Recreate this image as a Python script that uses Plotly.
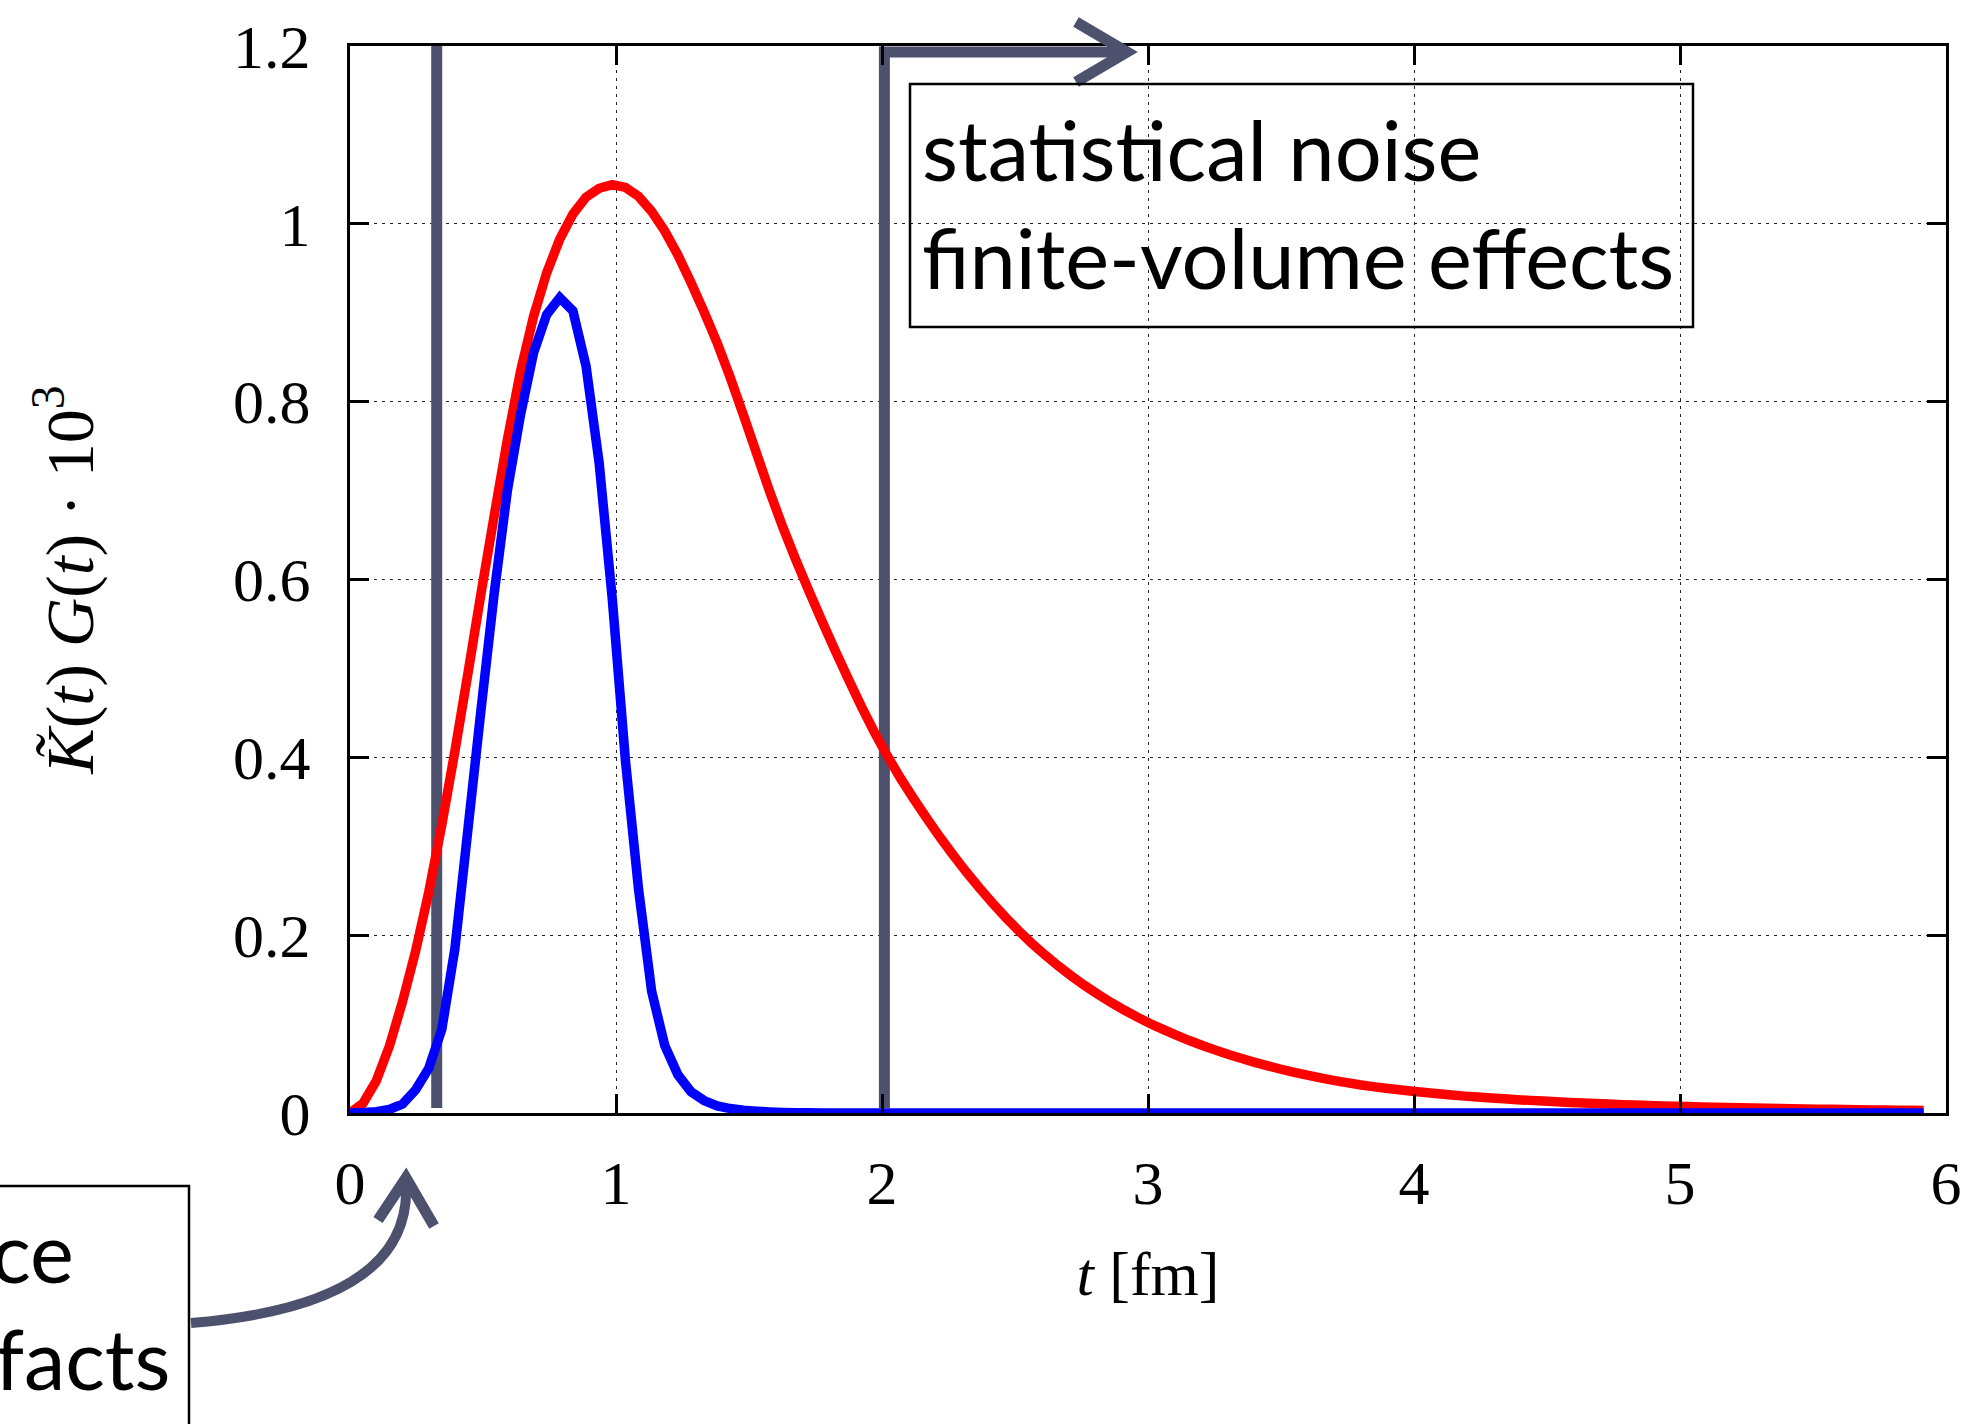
import plotly.graph_objects as go

# ---------------- data ----------------
t_fm = [0.0, 0.0493, 0.0986, 0.1479, 0.1972, 0.2465, 0.2958, 0.3451, 0.3944, 0.4437,
        0.493, 0.5423, 0.5916, 0.6409, 0.6902, 0.7395, 0.7888, 0.8381, 0.8874, 0.9367,
        0.986, 1.0353, 1.0846, 1.1339, 1.1832, 1.2325, 1.2818, 1.3311, 1.3804, 1.4297,
        1.479, 1.5283, 1.5776, 1.6269, 1.6762, 1.7255, 1.7748, 1.8241, 1.8734, 1.9227,
        1.972, 2.0213, 2.0706, 2.1199, 2.1692, 2.2185, 2.2678, 2.3171, 2.3664, 2.4157,
        2.465, 2.5143, 2.5636, 2.6129, 2.6622, 2.7115, 2.7608, 2.8101, 2.8594, 2.9087,
        2.958, 3.0073, 3.0566, 3.1059, 3.1552, 3.2045, 3.2538, 3.3031, 3.3524, 3.4017,
        3.451, 3.5003, 3.5496, 3.5989, 3.6482, 3.6975, 3.7468, 3.7961, 3.8454, 3.8947,
        3.944, 3.9933, 4.0426, 4.0919, 4.1412, 4.1905, 4.2398, 4.2891, 4.3384, 4.3877,
        4.437, 4.4863, 4.5356, 4.5849, 4.6342, 4.6835, 4.7328, 4.7821, 4.8314, 4.8807,
        4.93, 4.9793, 5.0286, 5.0779, 5.1272, 5.1765, 5.2258, 5.2751, 5.3244, 5.3737,
        5.423, 5.4723, 5.5216, 5.5709, 5.6202, 5.6695, 5.7188, 5.7681, 5.8174, 5.8667,
        5.916]

red_vals = [0.000, 0.011, 0.036, 0.075, 0.125, 0.182, 0.248, 0.324, 0.407, 0.495,
            0.585, 0.672, 0.757, 0.834, 0.896, 0.945, 0.983, 1.011, 1.030, 1.040,
            1.044, 1.041, 1.031, 1.014, 0.992, 0.965, 0.934, 0.901, 0.866, 0.827,
            0.785, 0.742, 0.699, 0.659, 0.622, 0.587, 0.553, 0.520, 0.488, 0.457,
            0.428, 0.401, 0.376, 0.353, 0.331, 0.310, 0.290, 0.271, 0.253, 0.236,
            0.2198, 0.2048, 0.1907, 0.1777, 0.1655, 0.1542, 0.1436, 0.1338, 0.1246, 0.1161,
            0.1081, 0.1007, 0.0940, 0.0875, 0.0815, 0.0759, 0.0707, 0.0658, 0.0613, 0.0570,
            0.0530, 0.0492, 0.0457, 0.0425, 0.0395, 0.0367, 0.0341, 0.0317, 0.0297, 0.0279,
            0.0261, 0.0245, 0.0230, 0.0216, 0.0202, 0.0190, 0.0179, 0.0169, 0.0159, 0.0150,
            0.0142, 0.0134, 0.0126, 0.0119, 0.0112, 0.0106, 0.0100, 0.0094, 0.0089, 0.0084,
            0.0080, 0.0076, 0.0072, 0.0068, 0.0065, 0.0062, 0.0059, 0.0056, 0.0053, 0.0050,
            0.0048, 0.0045, 0.0043, 0.0041, 0.0039, 0.0037, 0.0035, 0.0033, 0.0032, 0.0030,
            0.0029]

blue_vals = [0.0, 0.0005, 0.0015, 0.004, 0.010, 0.026, 0.050, 0.094, 0.185, 0.320,
             0.455, 0.585, 0.700, 0.785, 0.855, 0.898, 0.917, 0.902, 0.840, 0.731,
             0.578, 0.397, 0.252, 0.137, 0.076, 0.043, 0.024, 0.014, 0.008, 0.005,
             0.003, 0.002, 0.0012, 0.0007, 0.0004, 0.0002, 0.0, 0.0, 0.0, 0.0,
             0.0, 0.0, 0.0, 0.0, 0.0, 0.0, 0.0, 0.0, 0.0, 0.0,
             0.0, 0.0, 0.0, 0.0, 0.0, 0.0, 0.0, 0.0, 0.0, 0.0,
             0.0, 0.0, 0.0, 0.0, 0.0, 0.0, 0.0, 0.0, 0.0, 0.0,
             0.0, 0.0, 0.0, 0.0, 0.0, 0.0, 0.0, 0.0, 0.0, 0.0,
             0.0, 0.0, 0.0, 0.0, 0.0, 0.0, 0.0, 0.0, 0.0, 0.0,
             0.0, 0.0, 0.0, 0.0, 0.0, 0.0, 0.0, 0.0, 0.0, 0.0,
             0.0, 0.0, 0.0, 0.0, 0.0, 0.0, 0.0, 0.0, 0.0, 0.0,
             0.0, 0.0, 0.0, 0.0, 0.0, 0.0, 0.0, 0.0, 0.0, 0.0,
             0.0]

x_tickvals = [0, 1, 2, 3, 4, 5, 6]
x_ticktext = ["0", "1", "2", "3", "4", "5", "6"]
y_tickvals = [0, 0.2, 0.4, 0.6, 0.8, 1.0, 1.2]
y_ticktext = ["0", "0.2", "0.4", "0.6", "0.8", "1", "1.2"]

# window-region boundaries (fm) marked by the sketched lines
t_window_lo = 0.326
t_window_hi = 2.009

# ---------------- layout geometry ----------------
W, H = 1972, 1424
ML, MR, MT, MB = 350, 26, 46, 311
PW, PH = W - ML - MR, H - MT - MB

def pxx(x):
    return (x - ML) / PW

def pxy(y):
    return (H - MB - y) / PH

GRAY = "#4d516e"
SERIF = "Liberation Serif, Times New Roman, serif"
SANS = "Lato, Carlito, Open Sans, sans-serif"

fig = go.Figure()
fig.add_trace(go.Scatter(x=t_fm, y=red_vals, mode="lines",
                         line=dict(color="#ff0000", width=9.5, simplify=False),
                         cliponaxis=False, showlegend=False))
fig.add_trace(go.Scatter(x=t_fm, y=blue_vals, mode="lines",
                         line=dict(color="#0000ff", width=9.5, simplify=False),
                         cliponaxis=False, showlegend=False))

axis_common = dict(showline=True, linewidth=3, linecolor="black", mirror="allticks",
                   ticks="inside", ticklen=19, tickwidth=3, tickcolor="black",
                   showgrid=True, gridcolor="#222222", gridwidth=1, griddash="3px,5px",
                   zeroline=False, tickfont=dict(family=SERIF, size=62, color="black"))

fig.update_xaxes(range=[0, 6], tickvals=x_tickvals, ticktext=x_ticktext,
                 ticklabelstandoff=14,
                 title=dict(text="<i>t</i> [fm]", font=dict(family=SERIF, size=62, color="black"),
                            standoff=36),
                 **axis_common)
fig.update_yaxes(range=[0, 1.2], tickvals=y_tickvals, ticktext=y_ticktext,
                 ticklabelstandoff=24,
                 title=dict(text="<i>K̃</i>(<i>t</i>) <i>G</i>(<i>t</i>) · 10<sup>3</sup>",
                            font=dict(family=SERIF, size=68, color="black"), standoff=118),
                 **axis_common)

y_lo = (H - MB - 1108) / (PH / 1.2)
y_top_line = (H - MB - 52) / (PH / 1.2)
x_tip = (1124 - ML) / (PW / 6)

shapes = [
    dict(type="line", xref="x", yref="y", x0=t_window_lo, x1=t_window_lo, y0=y_lo, y1=1.2,
         line=dict(color=GRAY, width=11), layer="between"),
    dict(type="path", xref="x", yref="y",
         path=f"M{t_window_hi},{y_lo} L{t_window_hi},{y_top_line} L{x_tip},{y_top_line}",
         line=dict(color=GRAY, width=11), layer="between"),
    # arrowhead at the top
    dict(type="path", xref="paper", yref="paper",
         path=f"M{pxx(1076)},{pxy(22)} L{pxx(1127)},{pxy(52)} L{pxx(1076)},{pxy(82)}",
         line=dict(color=GRAY, width=11), layer="above"),
    # curved arrow from the lower-left box
    dict(type="path", xref="paper", yref="paper",
         path=f"M{pxx(191)},{pxy(1323)} Q{pxx(412)},{pxy(1305)} {pxx(406)},{pxy(1184)}",
         line=dict(color=GRAY, width=10), layer="above"),
    dict(type="path", xref="paper", yref="paper",
         path=f"M{pxx(378)},{pxy(1220)} L{pxx(406)},{pxy(1178)} L{pxx(434)},{pxy(1226)}",
         line=dict(color=GRAY, width=11), layer="above"),
    # text boxes
    dict(type="rect", xref="paper", yref="paper",
         x0=pxx(910), x1=pxx(1693), y0=pxy(327), y1=pxy(84),
         line=dict(color="black", width=2.5), layer="above"),
    dict(type="rect", xref="paper", yref="paper",
         x0=pxx(-40), x1=pxx(189), y0=pxy(1470), y1=pxy(1186),
         line=dict(color="black", width=2.5), layer="above"),
]

annotations = [
    dict(xref="paper", yref="paper", x=pxx(920), y=pxy(203), xanchor="left", yanchor="middle",
         text="statistical noise<br>finite-volume effects", align="left", showarrow=False,
         font=dict(family=SANS, size=83, color="black")),
    dict(xref="paper", yref="paper", x=pxx(76), y=pxy(1251), xanchor="right", yanchor="middle",
         text="short distance", align="right", showarrow=False,
         font=dict(family=SANS, size=83, color="black")),
    dict(xref="paper", yref="paper", x=pxx(173), y=pxy(1358), xanchor="right", yanchor="middle",
         text="lattice artifacts", align="right", showarrow=False,
         font=dict(family=SANS, size=83, color="black")),
]

fig.update_layout(width=W, height=H, autosize=False,
                  margin=dict(l=ML, r=MR, t=MT, b=MB, autoexpand=False),
                  paper_bgcolor="white", plot_bgcolor="white",
                  shapes=shapes, annotations=annotations, showlegend=False)

fig.write_html("out.html")
